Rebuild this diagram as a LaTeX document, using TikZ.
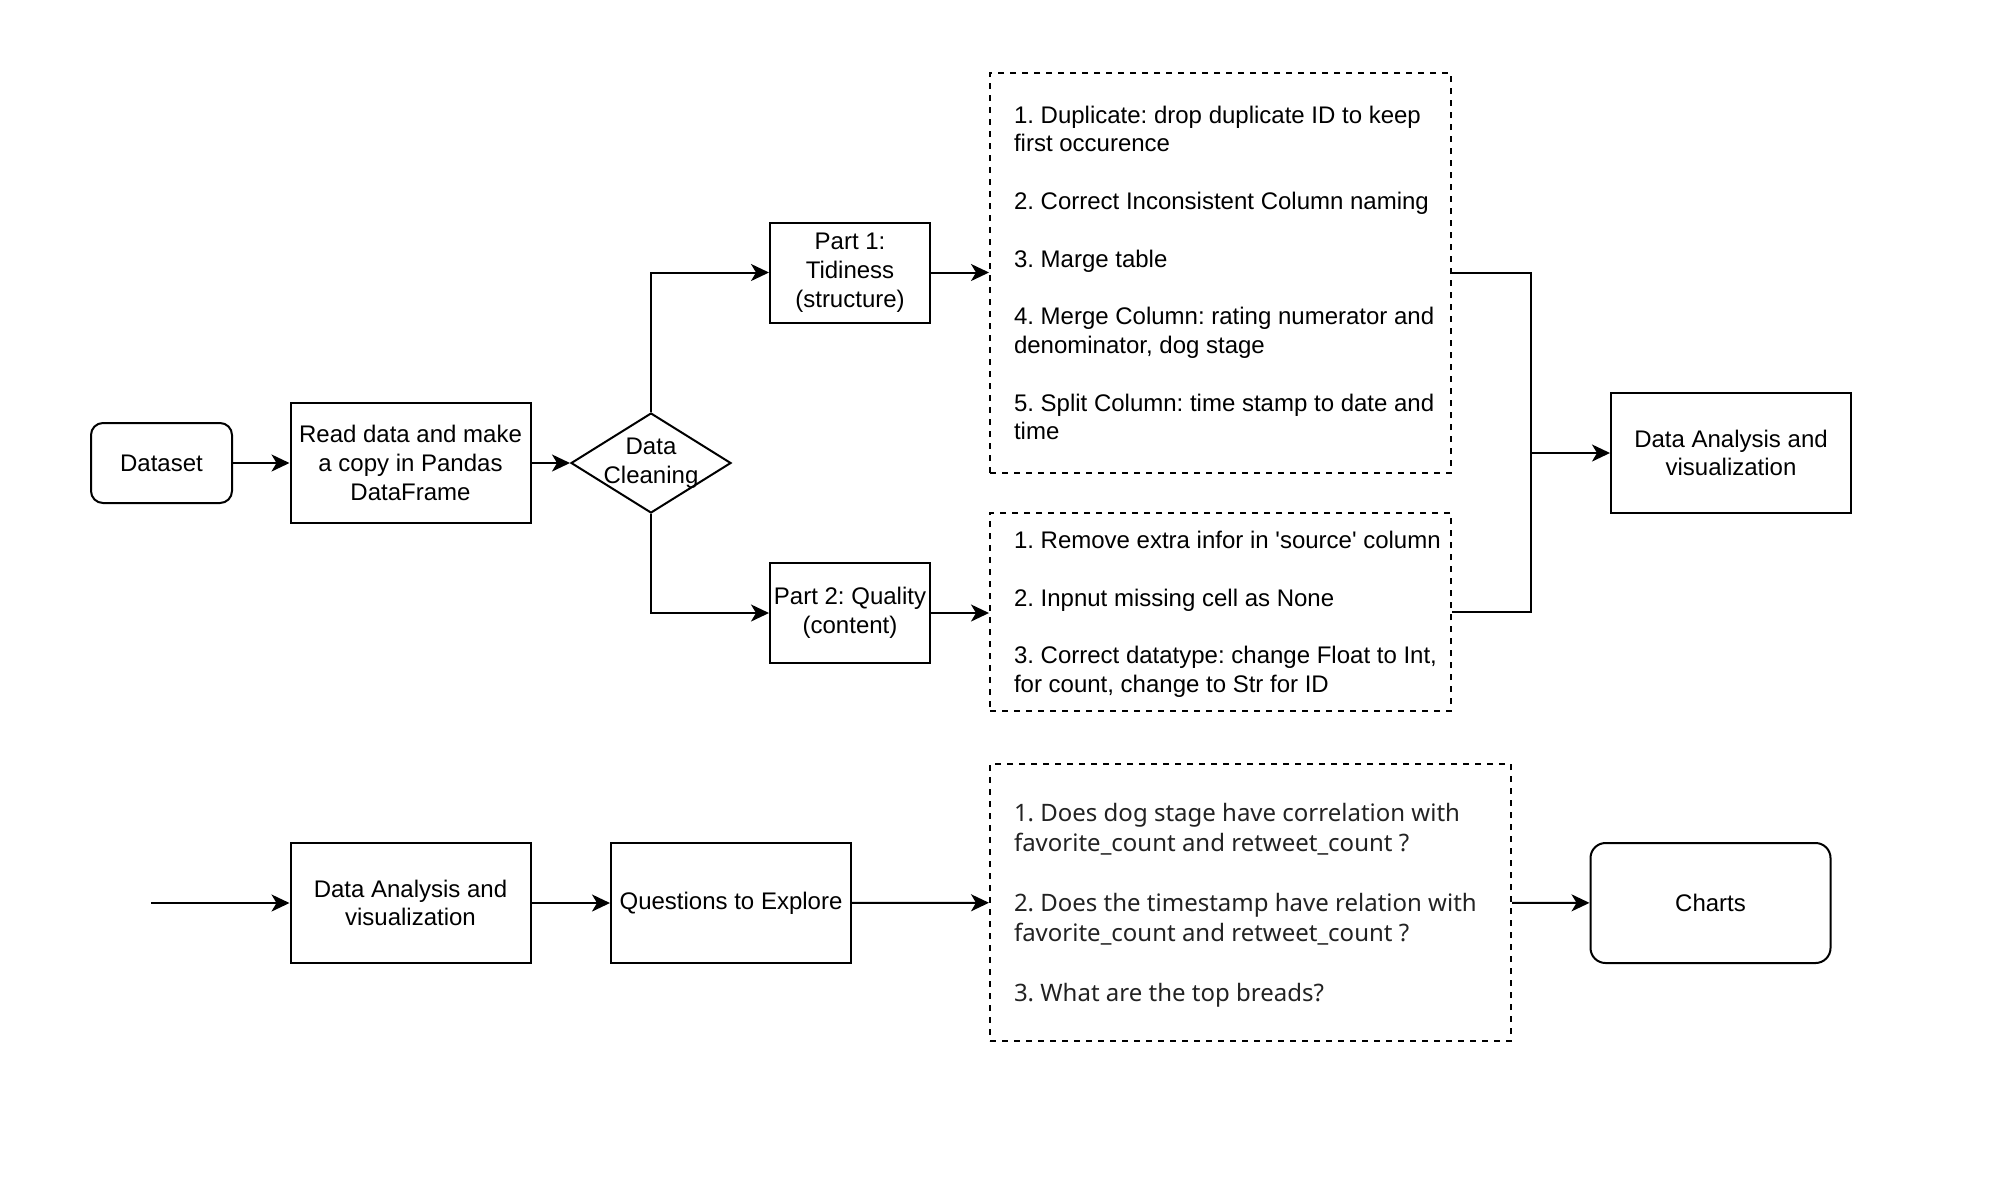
\documentclass[tikz,border=0pt]{standalone}
\usepackage{fontspec}
\setmainfont{Liberation Sans}[Ligatures=TeXOff]
\newfontfamily\questionfont{Noto Sans}[Ligatures=TeXOff]
\usetikzlibrary{shapes.geometric,arrows.meta}
\definecolor{qgray}{HTML}{222222}
\frenchspacing

\begin{document}
\begin{tikzpicture}[x=0.5pt,y=-0.5pt,
  font=\fontsize{12}{14.4}\selectfont,
  line width=1pt,
  >={Stealth[length=9pt,width=8.5pt,inset=2.5pt]},
  box/.style={draw, rectangle, minimum width=120pt, minimum height=60pt,
    align=center, inner sep=1pt},
  smallbox/.style={box, minimum width=80pt, minimum height=50pt},
  roundbox/.style={box, rounded corners=7.5pt},
  dashbox/.style={draw, rectangle, dash pattern=on 3pt off 3pt, inner sep=0pt},
  listtext/.style={anchor=west, align=left, inner sep=0pt},
  decision/.style={draw, diamond, minimum width=80pt, minimum height=50pt, inner sep=0pt},
]
\useasboundingbox (0,0) rectangle (2006,1190);

% ---- cleaning pipeline ----
\node[roundbox, minimum width=70.5pt, minimum height=40pt, rounded corners=6pt]
  (dataset) at (161.5,463) {Dataset};
\node[box] (read) at (410.5,463) {Read data and make\\a copy in Pandas\\DataFrame};
\node[decision, label={[align=center]center:Data\\Cleaning}] (clean) at (651,463) {};

\node[smallbox] (tidy) at (850,272.5) {Part 1:\\Tidiness\\(structure)};
\node[smallbox] (quality) at (850,613) {Part 2: Quality\\(content)};

\node[dashbox, minimum width=230.5pt, minimum height=200pt] (tidylist) at (1220.5,273) {};
\node[listtext] (tidytext) at ([xshift=12pt]tidylist.west)
  {1. Duplicate: drop duplicate ID to keep\\first occurence\\[14.4pt]
   2. Correct Inconsistent Column naming\\[14.4pt]
   3. Marge table\\[14.4pt]
   4. Merge Column: rating numerator and\\denominator, dog stage\\[14.4pt]
   5. Split Column: time stamp to date and\\time};

\node[dashbox, minimum width=230.5pt, minimum height=99pt] (qualitylist) at (1220.5,612) {};
\node[listtext] (qualitytext) at ([xshift=12pt,yshift=-1.2pt]qualitylist.west)
  {1. Remove extra infor in 'source' column\\[14.4pt]
   2. Inpnut missing cell as None\\[14.4pt]
   3. Correct datatype: change Float to Int,\\for count, change to Str for ID};

\node[box] (analysis) at (1731,453) {Data Analysis and\\visualization};
\coordinate (merge) at (1531,453);

\draw[->] (dataset) -- (read);
\draw[->] (read) -- (clean);
\draw[->] (clean.north) |- (tidy.west);
\draw[->] (clean.south) |- (quality.west);
\draw[->] (tidy.east) -- (tidy.east -| tidylist.west);
\draw[->] (quality.east) -- (quality.east -| qualitylist.west);
\draw (qualitylist.east) -| (merge);
\draw[->] (tidylist.east) -| (merge) -- (analysis.west);

% ---- analysis pipeline ----
\coordinate (entry) at (151,903);
\node[box] (analysis2) at (410.5,903) {Data Analysis and\\visualization};
\node[box] (questions) at (731,903) {Questions to Explore};
\node[dashbox, minimum width=260.5pt, minimum height=138.5pt] (qlist) at (1250.5,902.5) {};
\node[listtext, font=\questionfont\fontsize{12}{15}\selectfont, text=qgray]
  (qtext) at ([xshift=12pt,yshift=-1.5pt]qlist.west)
  {1. Does dog stage have correlation with\\favorite\_count and retweet\_count ?\\[15pt]
   2. Does the timestamp have relation with\\favorite\_count and retweet\_count ?\\[15pt]
   3. What are the top breads?};
\node[roundbox] (charts) at (1710.5,903) {Charts};

\draw[->] (entry) -- (analysis2);
\draw[->] (analysis2) -- (questions);
\draw[->] (questions) -- (qlist);
\draw[->] (qlist) -- (charts);
\end{tikzpicture}
\end{document}
